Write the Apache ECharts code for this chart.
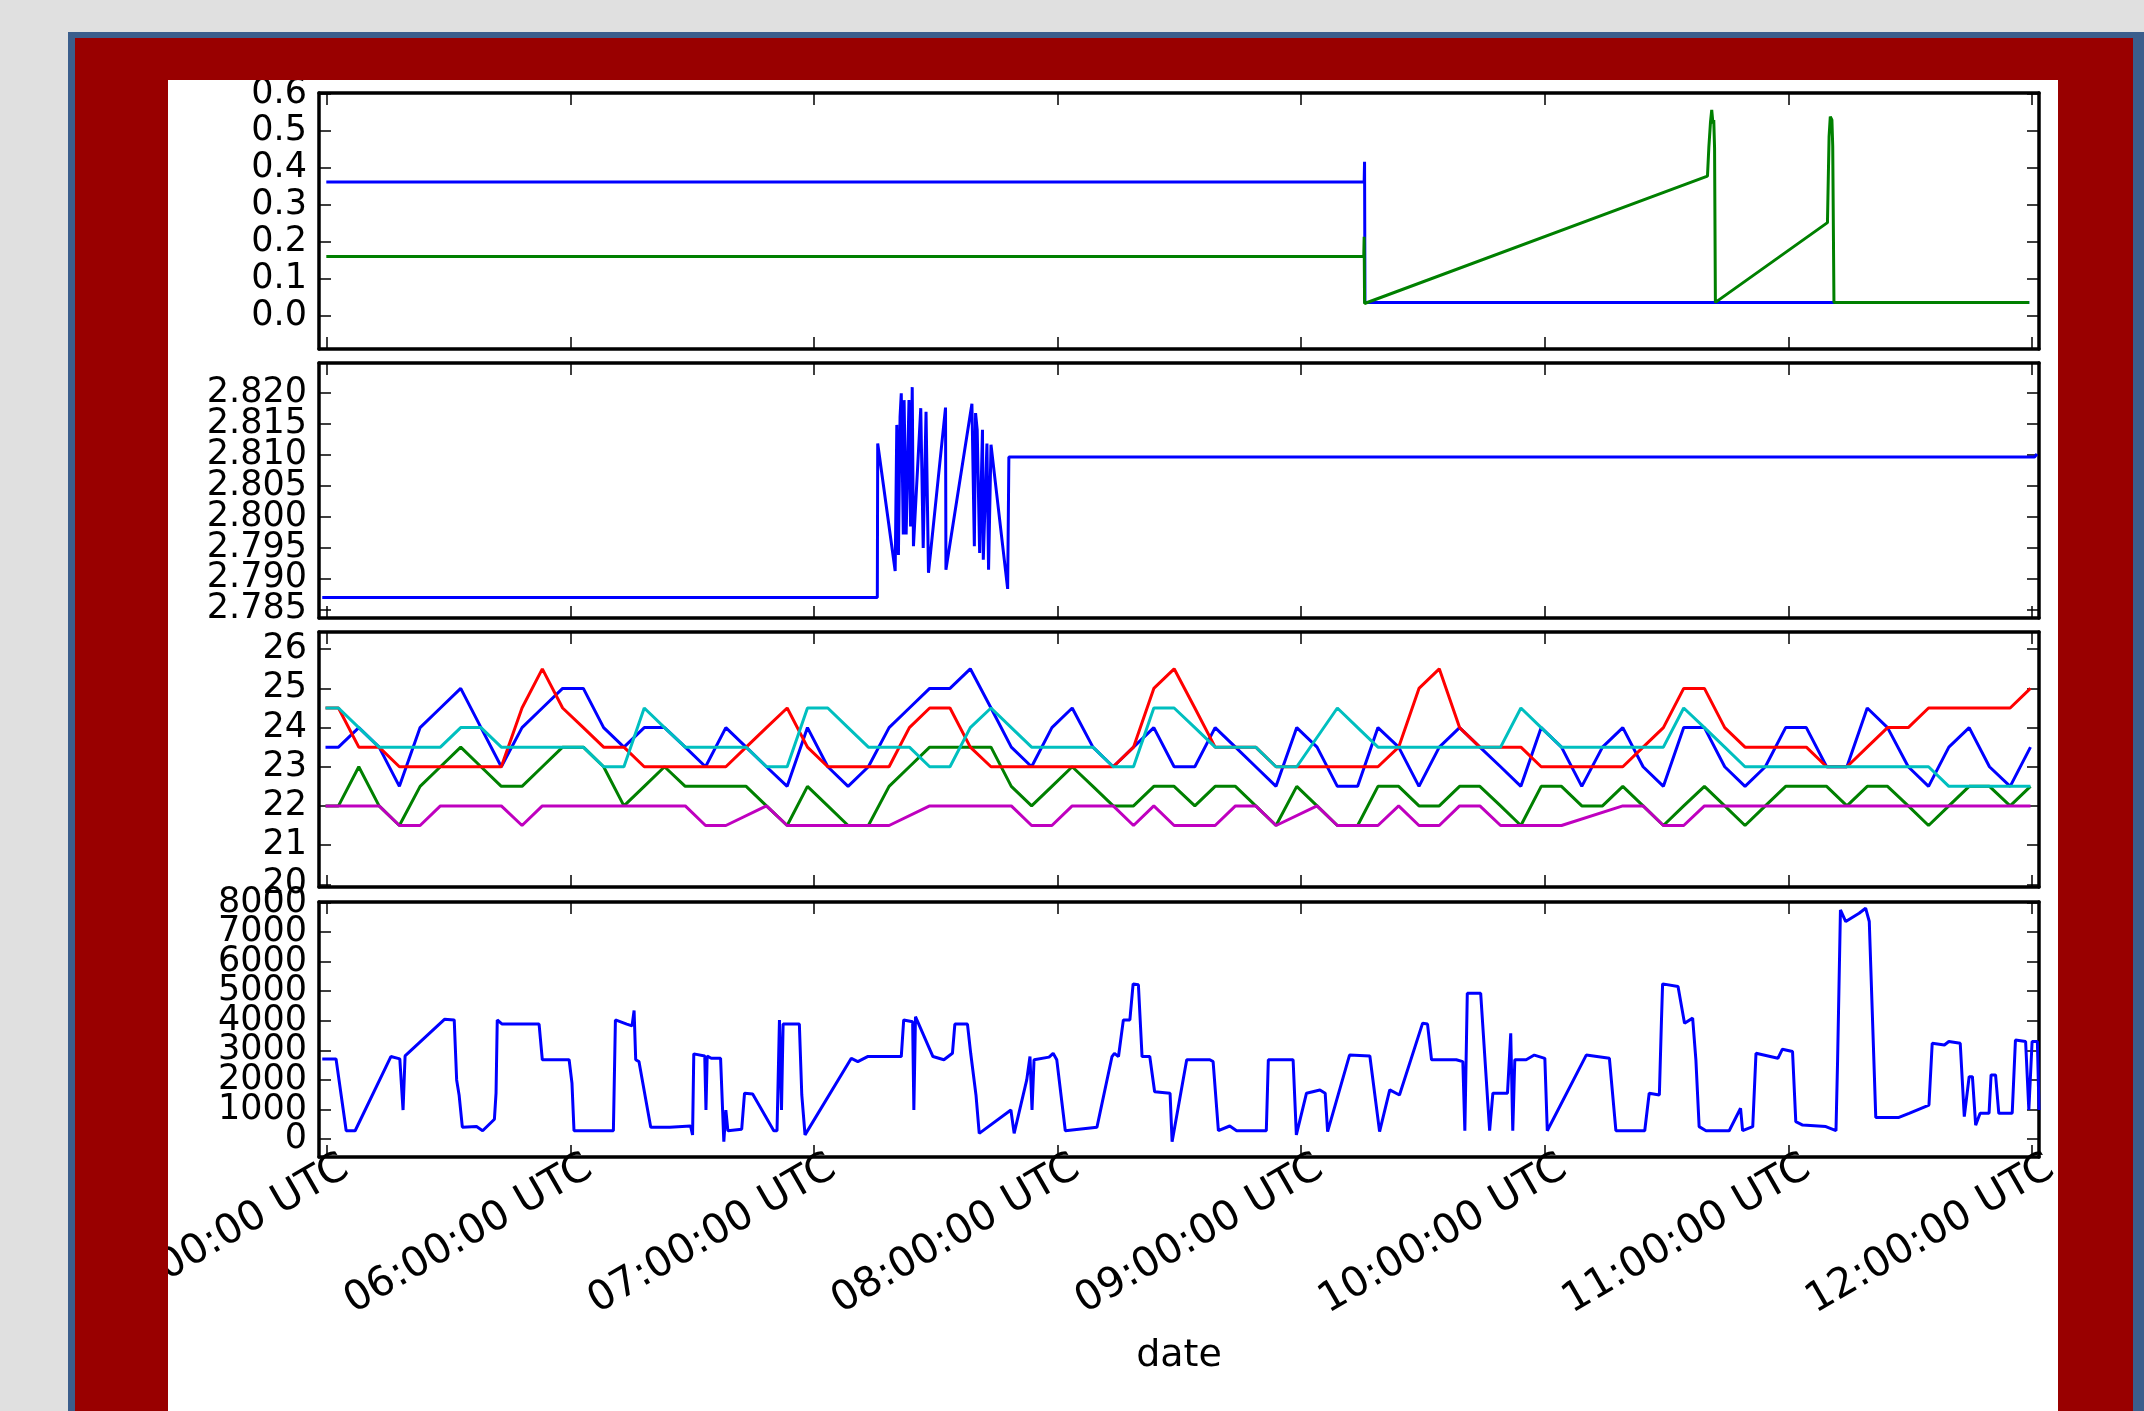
<!DOCTYPE html>
<html>
<head>
<meta charset="utf-8">
<script src="https://cdn.jsdelivr.net/npm/echarts@6/dist/echarts.min.js"></script>
<style>
  html, body { margin: 0; padding: 0; width: 2144px; height: 1411px; overflow: hidden; background: #e0e0e0; }
  #frame { position: absolute; left: 68px; top: 32px; width: 2076px; height: 1379px; background: #3b5e8c; }
  #panel { position: absolute; left: 75px; top: 38px; width: 2058px; height: 1373px; background: #990000; }
  #chart { position: absolute; left: 168px; top: 80px; width: 1890px; height: 1331px; background: #fff; }
</style>
</head>
<body>
<div id="frame"></div>
<div id="panel"></div>
<div id="chart"></div>
<script>
// times are minutes since 00:00 UTC
const FONT = "DejaVu Sans";
const X_MIN = 298.1;
const X_MAX = 721.7;
const hourTicks = [300, 360, 420, 480, 540, 600, 660, 720];

// panel 1
const rateTicks = [0, 0.1, 0.2, 0.3, 0.4, 0.5, 0.6];
const rateBlueTimes = [299.9, 555.5, 555.6, 555.7, 719.3];
const rateBlue = [0.362, 0.362, 0.417, 0.036, 0.036];
const rateGreenTimes = [299.9, 555.4, 555.5, 555.6, 640.05, 640.4, 640.8, 641.1, 641.4, 641.6, 641.8, 642.0,
  669.6, 670.0, 670.3, 670.7, 670.9, 671.2, 719.3];
const rateGreen = [0.160, 0.160, 0.214, 0.033, 0.378, 0.458, 0.525, 0.557, 0.521, 0.530, 0.453, 0.036,
  0.252, 0.485, 0.539, 0.530, 0.458, 0.036, 0.036];

// panel 2
const levelTicks = [2.785, 2.790, 2.795, 2.800, 2.805, 2.810, 2.815, 2.820];
const levelTimes = [298.9, 435.6, 435.7, 440.0, 440.4, 440.8, 441.2, 441.5, 442.0, 442.2, 442.7, 443.4, 443.8,
  444.2, 444.5, 446.3, 446.9, 447.6, 448.2, 452.4, 452.5, 458.9, 459.5, 459.8, 460.2, 460.8, 461.5, 461.7,
  462.6, 463.0, 463.6, 467.7, 468.0, 720.6, 721.2];
const levelValues = [2.7869, 2.7869, 2.8118, 2.7912, 2.8148, 2.7938, 2.8161, 2.8199, 2.7971, 2.8188, 2.7971,
  2.8188, 2.7984, 2.8209, 2.7952, 2.8175, 2.7949, 2.8169, 2.7909, 2.8176, 2.7914, 2.8182, 2.7952, 2.8167,
  2.8140, 2.7941, 2.8140, 2.7930, 2.8118, 2.7914, 2.8116, 2.7883, 2.8096, 2.8096, 2.8101];

// panel 3
const tempTicks = [20, 21, 22, 23, 24, 25, 26];
const tempTimes = [299.7, 302.9, 307.9, 312.9, 317.9, 323.0, 328.0, 333.0, 338.0, 343.0, 348.1, 353.1, 358.1,
  363.2, 368.2, 373.2, 378.2, 383.2, 388.3, 393.3, 398.3, 403.3, 408.3, 413.4, 418.4, 423.4, 428.4, 433.4,
  438.5, 443.5, 448.5, 453.5, 458.5, 463.6, 468.6, 473.6, 478.6, 483.6, 488.7, 493.7, 498.7, 503.7, 508.7,
  513.8, 518.8, 523.8, 528.8, 533.8, 538.9, 543.9, 548.9, 553.9, 558.9, 564.0, 569.0, 574.0, 579.0, 584.0,
  589.1, 594.1, 599.1, 604.1, 609.1, 614.2, 619.2, 624.2, 629.2, 634.2, 639.3, 644.3, 649.3, 654.3, 659.3,
  664.4, 669.4, 674.4, 679.4, 684.4, 689.5, 694.5, 699.5, 704.5, 709.5, 714.6, 719.6];
const tempBlue = [23.5, 23.5, 24, 23.5, 22.5, 24, 24.5, 25, 24, 23, 24, 24.5, 25, 25, 24, 23.5, 24, 24, 23.5, 23,
  24, 23.5, 23, 22.5, 24, 23, 22.5, 23, 24,
  24.5, 25, 25, 25.5, 24.5, 23.5, 23, 24, 24.5, 23.5, 23, 23.5, 24, 23, 23, 24, 23.5, 23, 22.5, 24, 23.5, 22.5,
  22.5, 24, 23.5, 22.5, 23.5, 24,
  23.5, 23, 22.5, 24, 23.5, 22.5, 23.5, 24, 23, 22.5, 24, 24, 23, 22.5, 23, 24, 24, 23, 23, 24.5, 24, 23, 22.5,
  23.5, 24, 23, 22.5, 23.5];
const tempGreen = [22, 22, 23, 22, 21.5, 22.5, 23, 23.5, 23, 22.5, 22.5, 23, 23.5, 23.5, 23, 22, 22.5, 23, 22.5,
  22.5, 22.5, 22.5, 22, 21.5, 22.5, 22, 21.5, 21.5, 22.5,
  23, 23.5, 23.5, 23.5, 23.5, 22.5, 22, 22.5, 23, 22.5, 22, 22, 22.5, 22.5, 22, 22.5, 22.5, 22, 21.5, 22.5, 22,
  21.5, 21.5, 22.5, 22.5, 22, 22, 22.5,
  22.5, 22, 21.5, 22.5, 22.5, 22, 22, 22.5, 22, 21.5, 22, 22.5, 22, 21.5, 22, 22.5, 22.5, 22.5, 22, 22.5, 22.5,
  22, 21.5, 22, 22.5, 22.5, 22, 22.5];
const tempRed = [24.5, 24.5, 23.5, 23.5, 23, 23, 23, 23, 23, 23, 24.5, 25.5, 24.5, 24, 23.5, 23.5, 23, 23, 23, 23,
  23, 23.5, 24, 24.5, 23.5, 23, 23, 23, 23,
  24, 24.5, 24.5, 23.5, 23, 23, 23, 23, 23, 23, 23, 23.5, 25, 25.5, 24.5, 23.5, 23.5, 23.5, 23, 23, 23, 23, 23,
  23, 23.5, 25, 25.5, 24,
  23.5, 23.5, 23.5, 23, 23, 23, 23, 23, 23.5, 24, 25, 25, 24, 23.5, 23.5, 23.5, 23.5, 23, 23, 23.5, 24, 24, 24.5,
  24.5, 24.5, 24.5, 24.5, 25];
const tempCyan = [24.5, 24.5, 24, 23.5, 23.5, 23.5, 23.5, 24, 24, 23.5, 23.5, 23.5, 23.5, 23.5, 23, 23, 24.5, 24,
  23.5, 23.5, 23.5, 23.5, 23, 23, 24.5, 24.5, 24, 23.5, 23.5,
  23.5, 23, 23, 24, 24.5, 24, 23.5, 23.5, 23.5, 23.5, 23, 23, 24.5, 24.5, 24, 23.5, 23.5, 23.5, 23, 23, null,
  24.5, 24, 23.5, 23.5, 23.5, 23.5, 23.5,
  23.5, 23.5, 24.5, 24, 23.5, 23.5, 23.5, 23.5, 23.5, 23.5, 24.5, 24, 23.5, 23, 23, 23, 23, 23, 23, 23, 23, 23,
  23, 22.5, 22.5, 22.5, 22.5, 22.5];
const tempMagenta = [22, 22, 22, 22, 21.5, 21.5, 22, 22, 22, 22, 21.5, 22, 22, 22, 22, 22, 22, 22, 22, 21.5, 21.5,
  null, 22, 21.5, 21.5, 21.5, 21.5, 21.5, 21.5,
  null, 22, 22, 22, 22, 22, 21.5, 21.5, 22, 22, 22, 21.5, 22, 21.5, 21.5, 21.5, 22, 22, 21.5, null, 22, 21.5,
  21.5, 21.5, 22, 21.5, 21.5, 22,
  22, 21.5, 21.5, 21.5, 21.5, null, null, 22, 22, 21.5, 21.5, 22, 22, 22, 22, 22, 22, 22, 22, 22, 22, 22, 22, 22,
  22, 22, 22, 22];

// panel 4
const powerTicks = [0, 1000, 2000, 3000, 4000, 5000, 6000, 7000, 8000];
const powerTimes = [298.9, 302.3, 304.8, 307.0, 315.8, 318.0, 318.8, 319.3, 329.0, 331.4, 332.0, 332.6, 333.4,
  336.9, 338.4, 341.3, 341.7, 342.0, 343.2, 352.3, 353.1, 359.7, 360.4, 360.9, 370.6, 371.1, 373.9, 375.2,
  375.7, 376.1, 376.9, 379.8, 384.5, 389.6, 390.1, 390.4, 393.1, 393.4, 393.7, 394.7, 397.0, 397.8, 398.3,
  398.8, 402.2, 402.9, 404.9, 410.1, 410.9, 411.5, 412.0, 412.4, 416.4, 417.0, 417.8, 429.2, 430.8, 433.2,
  441.5, 442.1, 444.3, 444.6, 445.0, 449.3, 452.0, 454.1, 454.7, 457.8, 458.6, 459.9, 460.7, 468.5, 469.3,
  472.4, 473.2, 473.7, 474.2, 477.9, 478.9, 479.8, 481.9, 489.7,
  493.4, 494.0, 495.0, 496.2, 497.8, 498.6, 499.9, 500.8, 502.7, 503.9, 507.7, 508.2, 511.8, 517.5, 518.3,
  519.6, 522.4, 524.1, 531.4, 531.9, 538.0, 538.8, 541.3, 544.6, 545.9, 546.5, 551.9, 556.9, 559.3, 561.8,
  564.2, 569.9, 571.1, 572.1, 578.2, 579.8, 580.3, 580.9, 584.2, 586.4, 587.2, 590.8, 591.6, 592.1, 592.6,
  595.4, 597.4, 600.0, 600.6, 610.2, 615.9, 617.5, 624.6, 625.7, 628.2, 628.7, 629.0, 632.8, 634.4, 636.4,
  637.2, 638.0, 639.7, 645.4, 648.2, 648.7, 651.2, 652.0, 657.4, 658.5, 661.0, 661.8, 663.5, 669.2, 671.7,
  672.1, 672.8, 674.1, 677.4, 679.0, 679.9, 681.5, 687.2, 689.7, 694.6, 695.4, 698.4, 699.5, 702.3, 703.3,
  704.5, 705.3, 706.1, 707.2, 709.4, 709.9, 711.0, 711.8, 715.1, 715.9, 718.4, 719.2, 720.0, 721.3, 721.7];
const powerValues = [2710, 2710, 280, 280, 2790, 2710, 980, 2810, 4050, 4030, 2000, 1490, 400,
  420, 280, 670, 1550, 4030, 3890, 3890, 2680, 2680, 1890, 280, 280, 4030, 3890, 3830,
  4350, 2680, 2620, 400, 400, 440, 140, 2880, 2810, 980, 2810, 2730, 2730, -90, 980,
  280, 330, 1550, 1520, 280, 280, 4030, 980, 3890, 3890, 1490, 140, 2730, 2620, 2790,
  2790, 4030, 3970, 980, 4140, 2790, 2680, 2900, 3890, 3890, 2900, 1490, 190, 980, 190,
  2000, 2790, 980, 2680, 2770, 2900, 2680, 280, 400,
  2790, 2900, 2790, 4030, 4030, 5250, 5220, 2790, 2790, 1600, 1550, -90, 2680, 2680, 2620,
  280, 440, 280, 280, 2680, 2680, 140, 1550, 1660, 1550, 250, 2840, 2810, 250, 1660,
  1490, 3920, 3890, 2680, 2680, 2620, 280, 4930, 4930, 280, 1550, 1550, 3580, 280, 2680,
  2680, 2840, 2730, 280, 2840, 2730, 280, 280, 1550, 1490, 3920, 5250, 5160, 3920, 4090,
  2680, 420, 280, 280, 1040, 280, 420, 2900, 2730, 3040, 2960, 590, 470, 420, 280,
  2680, 7750, 7360, 7640, 7810, 7360, 730, 730, 870, 1150, 3240, 3180, 3300, 3240, 760,
  2110, 2110, 470, 870, 870, 2170, 2170, 870, 870, 3350, 3300, 980, 3300, 3300, 980];

const GRID_LEFT = 151;
const GRID_WIDTH = 1720;
const PANELS = [
  { top: 13, height: 256, min: -0.0902, max: 0.603, ticks: rateTicks, digits: 1 },
  { top: 283, height: 255, min: 2.7836, max: 2.8248, ticks: levelTicks, digits: 3 },
  { top: 552, height: 255, min: 19.93, max: 26.44, ticks: tempTicks, digits: 0 },
  { top: 822, height: 255, min: -609, max: 8020, ticks: powerTicks, digits: 0 },
];

const COLORS = { b: "#0000ff", g: "#008000", r: "#ff0000", c: "#00bfbf", m: "#bf00bf" };

// rotated date labels sit a bit right of their ticks (matplotlib style), so they get their own grid
const LABEL_SHIFT_PX = 19;

function pairs(times, values) {
  return times.map((t, i) => [t, values[i]]);
}

function hourLabel(v) {
  const hh = String(Math.round(v / 60)).padStart(2, "0");
  return `${hh}:00:00 UTC`;
}

const spine = { show: true, onZero: false, lineStyle: { color: "#000", width: 3.5 } };
const tickStyle = (values) => ({
  show: true, inside: true, length: 12, customValues: values,
  lineStyle: { color: "#000", width: 1.5 },
});
const yLabel = (values, digits) => ({
  customValues: values, formatter: (v) => v.toFixed(digits), margin: 12,
  showMinLabel: true, showMaxLabel: true, hideOverlap: false,
  fontFamily: FONT, fontSize: 35, color: "#000",
});

const grids = [];
const xAxes = [];
const yAxes = [];
const dataAxis = [];

PANELS.forEach((p, i) => {
  const last = i === PANELS.length - 1;
  grids.push({ left: GRID_LEFT, width: GRID_WIDTH, top: p.top, height: p.height, outerBoundsMode: "none" });

  xAxes.push({
    type: "value", gridIndex: i, position: "bottom", min: X_MIN, max: X_MAX,
    axisLine: spine, axisTick: tickStyle(hourTicks), splitLine: { show: false },
    axisLabel: { show: false },
    name: last ? "date" : "", nameLocation: "middle", nameGap: 180,
    nameTextStyle: { fontFamily: FONT, fontSize: 38, color: "#000" },
  });
  xAxes.push({
    type: "value", gridIndex: i, position: "top", min: X_MIN, max: X_MAX,
    axisLine: spine, axisTick: tickStyle(hourTicks), splitLine: { show: false },
    axisLabel: { show: false },
  });

  // tick labels crowd each other, so they are split over two stacked left axes
  const even = p.ticks.filter((_, k) => k % 2 === 0);
  const odd = p.ticks.filter((_, k) => k % 2 === 1);
  dataAxis.push(yAxes.length);
  yAxes.push({
    type: "value", gridIndex: i, position: "left", min: p.min, max: p.max,
    axisLine: spine, axisTick: tickStyle(p.ticks), splitLine: { show: false },
    axisLabel: yLabel(even, p.digits),
  });
  yAxes.push({
    type: "value", gridIndex: i, position: "left", offset: 0, min: p.min, max: p.max,
    axisLine: { show: false, onZero: false }, axisTick: { show: false }, splitLine: { show: false },
    axisLabel: yLabel(odd, p.digits),
  });
  yAxes.push({
    type: "value", gridIndex: i, position: "right", min: p.min, max: p.max,
    axisLine: spine, axisTick: tickStyle(p.ticks), splitLine: { show: false },
    axisLabel: { show: false },
  });
});

// label-only grid under the last panel
const bottom = PANELS[PANELS.length - 1];
grids.push({
  left: GRID_LEFT + LABEL_SHIFT_PX, width: GRID_WIDTH, top: bottom.top, height: bottom.height,
  outerBoundsMode: "none",
});
xAxes.push({
  type: "value", gridIndex: 4, position: "bottom", min: X_MIN, max: X_MAX,
  axisLine: { show: false, onZero: false }, axisTick: { show: false }, splitLine: { show: false },
  axisLabel: {
    customValues: hourTicks, formatter: hourLabel, rotate: 30, margin: 8,
    showMinLabel: true, showMaxLabel: true, hideOverlap: false,
    fontFamily: FONT, fontSize: 41, color: "#000",
  },
});
yAxes.push({ type: "value", gridIndex: 4, min: 0, max: 1, show: false });

function line(panel, data, color) {
  return {
    type: "line", xAxisIndex: panel * 2, yAxisIndex: dataAxis[panel], data: data,
    showSymbol: false, symbol: "none", connectNulls: true, animation: false,
    lineStyle: { color: color, width: 3 }, itemStyle: { color: color },
  };
}

const series = [
  line(0, pairs(rateBlueTimes, rateBlue), COLORS.b),
  line(0, pairs(rateGreenTimes, rateGreen), COLORS.g),
  line(1, pairs(levelTimes, levelValues), COLORS.b),
  line(2, pairs(tempTimes, tempBlue), COLORS.b),
  line(2, pairs(tempTimes, tempGreen), COLORS.g),
  line(2, pairs(tempTimes, tempRed), COLORS.r),
  line(2, pairs(tempTimes, tempCyan), COLORS.c),
  line(2, pairs(tempTimes, tempMagenta), COLORS.m),
  line(3, pairs(powerTimes, powerValues), COLORS.b),
];

const chart = echarts.init(document.getElementById("chart"));
chart.setOption({
  animation: false,
  backgroundColor: "#fff",
  grid: grids,
  xAxis: xAxes,
  yAxis: yAxes,
  series: series,
});
</script>
</body>
</html>
